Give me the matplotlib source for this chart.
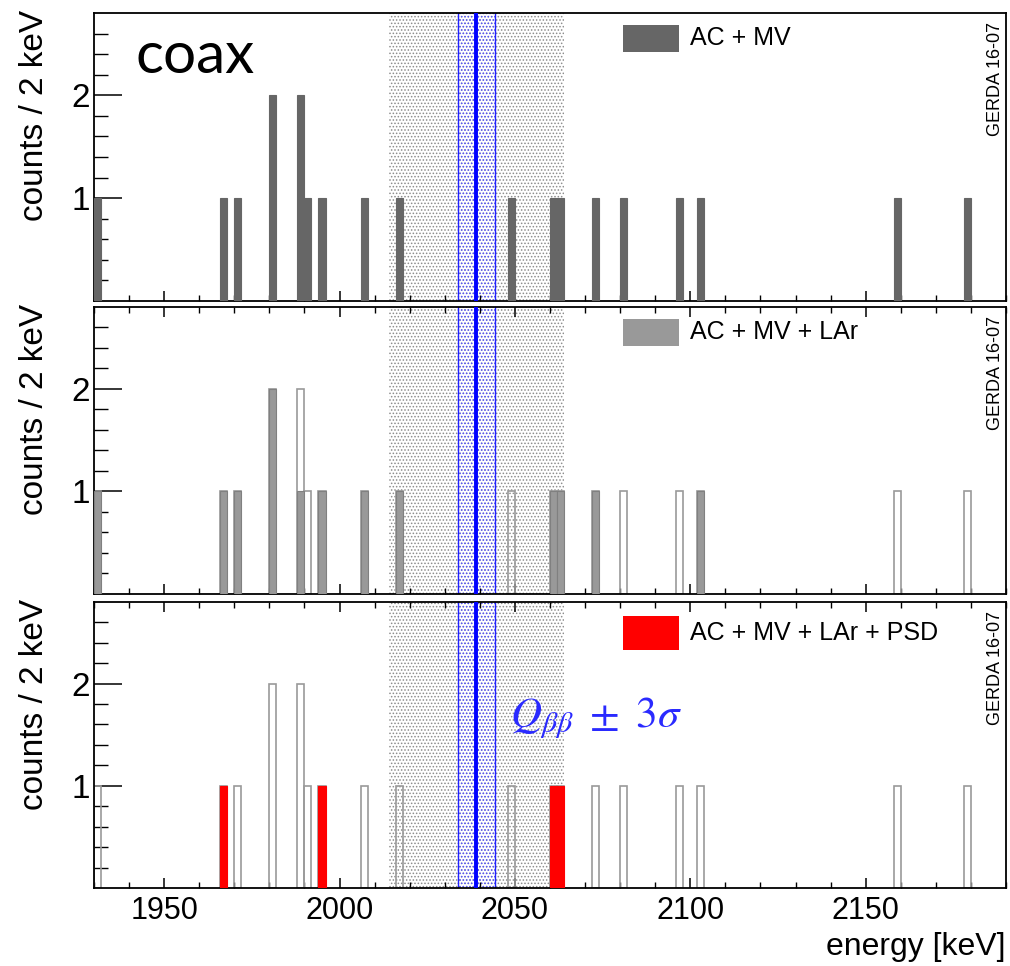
import numpy as np
import matplotlib
matplotlib.use("Agg")
import matplotlib.pyplot as plt
from matplotlib.patches import Rectangle
from matplotlib.ticker import MultipleLocator, FixedLocator

# 2 keV bins that hold events (lower bin edge, keV)
bin_lo = [1930, 1966, 1970, 1980, 1988, 1990, 1994, 2006, 2016, 2048,
          2060, 2062, 2072, 2080, 2096, 2102, 2158, 2178]
# counts per bin after each cut
counts_ac_mv = [1, 1, 1, 2, 2, 1, 1, 1, 1, 1, 1, 1, 1, 1, 1, 1, 1, 1]
counts_lar = [1, 1, 1, 2, 1, 0, 1, 1, 1, 0, 1, 1, 1, 0, 0, 1, 0, 0]
counts_psd = [0, 1, 0, 0, 0, 0, 1, 0, 0, 0, 1, 1, 0, 0, 0, 0, 0, 0]

bin_width = 2
q_bb = 2039
sigma3 = 5.2
blind_lo, blind_hi = 2014, 2064
labels = ["AC + MV", "AC + MV + LAr", "AC + MV + LAr + PSD"]
fill_colors = ["#666666", "#999999", "#ff0000"]

plt.rcParams['font.family'] = ['Liberation Sans', 'DejaVu Sans']
plt.rcParams['mathtext.fontset'] = 'stix'
plt.rcParams['hatch.linewidth'] = 0.7

fig = plt.figure(figsize=(10.1, 9.66), dpi=100)
W, H = 1010, 966
ax_left, ax_right = 94, 1006
panels_px = [(13, 301), (306.7, 594), (601.7, 888)]  # (top, bottom) in pixels

axes = []
for top, bot in panels_px:
    ax = fig.add_axes([ax_left / W, 1 - bot / H, (ax_right - ax_left) / W, (bot - top) / H])
    axes.append(ax)

selections = [counts_ac_mv, counts_lar, counts_psd]

for i, ax in enumerate(axes):
    # blinding window and Qbb +- 3 sigma region
    ax.axvspan(blind_lo, blind_hi, facecolor='none', edgecolor='#8c8c8c',
               hatch='.....', linewidth=0, zorder=0)
    ax.axvspan(q_bb - sigma3, q_bb + sigma3, facecolor='none', edgecolor='#5555ff',
               hatch='.....', linewidth=0, zorder=0.5)
    ax.axvline(q_bb - sigma3, color='#2020ff', lw=1.0, zorder=1)
    ax.axvline(q_bb + sigma3, color='#2020ff', lw=1.0, zorder=1)
    ax.axvline(q_bb, color='#0000ff', lw=2.8, zorder=4)

    if i > 0:
        # AC+MV spectrum as open outline
        ax.bar(bin_lo, counts_ac_mv, width=bin_width, align='edge', fill=False,
               edgecolor='#9a9a9a', linewidth=1.2, zorder=2)
    sel = np.array(selections[i])
    mask = sel > 0
    ec = fill_colors[i] if i != 1 else '#808080'
    ax.bar(np.array(bin_lo)[mask], sel[mask], width=bin_width, align='edge',
           color=fill_colors[i], edgecolor=ec, linewidth=0.8, zorder=3)

    ax.set_xlim(1930, 2190)
    ax.set_ylim(0, 2.8)
    ax.xaxis.set_major_locator(MultipleLocator(50))
    ax.xaxis.set_minor_locator(MultipleLocator(10))
    ax.yaxis.set_major_locator(FixedLocator([1, 2]))
    ax.yaxis.set_minor_locator(FixedLocator([0.2, 0.4, 0.6, 0.8, 1.2, 1.4, 1.6, 1.8,
                                             2.2, 2.4, 2.6]))
    ax.tick_params(axis='x', which='major', direction='in', length=7, width=1.1,
                   top=(i > 0), bottom=True, labelsize=22, pad=6)
    ax.tick_params(axis='x', which='minor', direction='in', length=4, width=1.0,
                   top=(i > 0), bottom=True)
    ax.tick_params(axis='y', which='major', direction='in', length=20, width=1.1,
                   labelsize=24, pad=3, right=False)
    ax.tick_params(axis='y', which='minor', direction='in', length=10, width=1.0,
                   right=False)
    if i < 2:
        ax.tick_params(axis='x', labelbottom=False)
    for sp in ax.spines.values():
        sp.set_linewidth(1.3)

    # legend box
    top, bot = panels_px[i]
    h = bot - top
    boxes = [(25, 52, 38), (319, 346, 332), (616, 650, 633)]
    b_top, b_bot, t_mid = boxes[i]
    ax.add_patch(Rectangle(((623 - ax_left) / 912, (bot - b_bot) / h), 56 / 912,
                           (b_bot - b_top) / h, transform=ax.transAxes,
                           facecolor=fill_colors[i], edgecolor='none', zorder=5))
    ax.text((690 - ax_left) / 912, (bot - t_mid) / h, labels[i], transform=ax.transAxes,
            ha='left', va='center', fontsize=18, zorder=5)

    ax.text((995 - ax_left) / 912, (bot - top - 9) / h, "GERDA 16-07", transform=ax.transAxes,
            rotation=90, ha='center', va='top', fontsize=13)

    fig.text(35 / W, 1 - (top - 3) / H, "counts / 2 keV", rotation=90,
             ha='center', va='top', fontsize=24)

axes[0].text((135 - ax_left) / 912, (301 - 73) / 288, "coax", transform=axes[0].transAxes,
             family=['Lato', 'DejaVu Sans'], fontsize=42, ha='left', va='baseline')

axes[2].text((510 - ax_left) / 912, (888 - 727) / 286.3, r'$Q_{\beta\beta}\ \pm\ 3\sigma$',
             transform=axes[2].transAxes, color='#2a2aff', fontsize=31,
             ha='left', va='baseline', zorder=6)

fig.text(1005 / W, 1 - 955 / H, "energy [keV]", ha='right', va='baseline', fontsize=23)

fig.savefig("out.png", dpi=100)
